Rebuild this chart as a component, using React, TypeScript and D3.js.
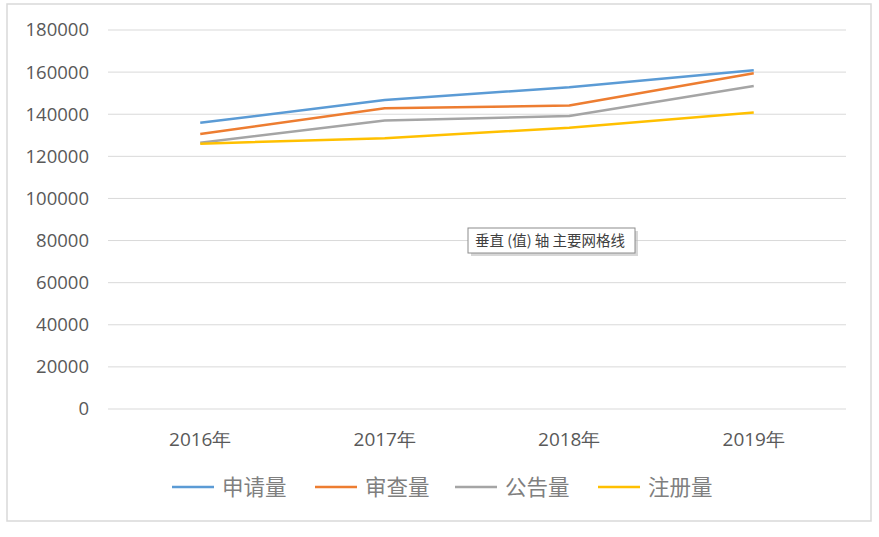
import React from 'react'
import * as d3 from 'd3'

const years = ['2016年', '2017年', '2018年', '2019年']
const seriesNames = ['申请量', '审查量', '公告量', '注册量']
const seriesColors = ['#5B9BD5', '#ED7D31', '#A5A5A5', '#FFC000']
const applied = [135900, 146800, 152800, 160900]
const examined = [130600, 142800, 144100, 159500]
const announced = [126500, 137000, 139200, 153400]
const registered = [126000, 128600, 133600, 140800]
const yTicks = [0, 20000, 40000, 60000, 80000, 100000, 120000, 140000, 160000, 180000]

const seriesValues = [applied, examined, announced, registered]

export default function App() {
  const width = 879
  const height = 537
  const plot = { left: 108, right: 846, top: 30, bottom: 409 }

  const x = d3.scaleBand<string>()
    .domain(years)
    .range([plot.left, plot.right])
  const y = d3.scaleLinear()
    .domain([0, 180000])
    .range([plot.bottom, plot.top])

  const line = d3.line<number>()
    .x((_, i) => (x(years[i]) ?? 0) + x.bandwidth() / 2)
    .y(d => y(d))

  const tickFont = '"Open Sans", "Noto Sans", sans-serif'
  const cjkFont = '"Noto Sans CJK SC", sans-serif'

  // legend entries: line start x
  const legendX = [172, 315, 455, 598]

  return (
    <svg
      width={width}
      height={height}
      style={{ position: 'absolute', left: 0, top: 0, background: '#fff' }}
    >
      <rect x={7} y={4} width={864} height={517} fill="#fff" stroke="#d9d9d9" strokeWidth={1.5} />

      {/* grid lines */}
      {yTicks.map(t => (
        <line
          key={t}
          x1={plot.left}
          x2={plot.right}
          y1={y(t)}
          y2={y(t)}
          stroke="#d9d9d9"
          strokeWidth={1}
        />
      ))}

      {/* y tick labels */}
      {yTicks.map(t => (
        <text
          key={'l' + t}
          x={89}
          y={y(t)}
          dy="0.35em"
          textAnchor="end"
          fontSize={18.5}
          fontFamily={tickFont}
          fill="#595959"
        >
          {t}
        </text>
      ))}

      {/* x labels */}
      {years.map(yr => (
        <text
          key={yr}
          x={(x(yr) ?? 0) + x.bandwidth() / 2}
          y={439}
          dy="0.35em"
          textAnchor="middle"
          fontSize={19}
          fontFamily={tickFont}
          fill="#595959"
        >
          {yr}
        </text>
      ))}

      {/* series */}
      {seriesValues.map((vals, i) => (
        <path
          key={seriesNames[i]}
          d={line(vals) ?? ''}
          fill="none"
          stroke={seriesColors[i]}
          strokeWidth={2.5}
          strokeLinejoin="round"
        />
      ))}

      {/* legend */}
      {seriesNames.map((name, i) => (
        <g key={'lg' + name} transform={`translate(${legendX[i]}, 487)`}>
          <line x1={0} x2={42} y1={0} y2={0} stroke={seriesColors[i]} strokeWidth={2.5} />
          <text
            x={50}
            y={0}
            dy="0.35em"
            fontSize={21.5}
            fontFamily={cjkFont}
            fill="#7f7f7f"
          >
            {name}
          </text>
        </g>
      ))}

      {/* hover tooltip */}
      <g transform="translate(468, 228)">
        <rect x={3} y={3} width={167} height={25} fill="#bdbdbd" opacity={0.6} />
        <rect x={0} y={0} width={167} height={25} fill="#fff" stroke="#8c8c8c" strokeWidth={1} />
        <text x={7} y={12.5} dy="0.35em" fontSize={14.5} fontFamily={cjkFont} fill="#404040">
          垂直 (值) 轴 主要网格线
        </text>
      </g>
    </svg>
  )
}
